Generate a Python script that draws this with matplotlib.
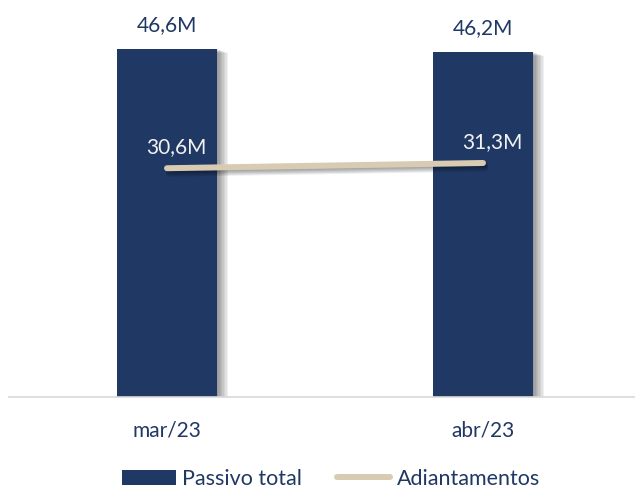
import matplotlib
matplotlib.use("Agg")
import matplotlib.pyplot as plt
import matplotlib.patheffects as pe
from matplotlib.patches import Patch
from matplotlib.lines import Line2D

# Monthly values (R$ millions)
months = ["mar/23", "abr/23"]
passivo_total = [46.6, 46.2]
adiantamentos = [30.6, 31.3]

NAVY = "#203864"
BEIGE = "#D8CBB2"
LABEL_LIGHT = "#F2F2F2"
FS = 15


def fmt(v):
    return f"{v:.1f}M".replace(".", ",")


plt.rcParams["font.family"] = ["Lato", "DejaVu Sans"]

fig = plt.figure(figsize=(6.35, 4.9), dpi=100)
ax = fig.add_axes([9 / 635, 93 / 490, 632 / 635, 397 / 490])

x = list(range(len(months)))

# soft drop shadow: stacked faint copies shifted right/down
bar_fx = [pe.SimplePatchShadow(offset=(k, -0.4 * k), shadow_rgbFace="#000000", alpha=0.06)
          for k in range(1, 9)] + [pe.Normal()]
ax.bar(x, passivo_total, width=0.316, color=NAVY, zorder=2, path_effects=bar_fx)

for xi, v in zip(x, passivo_total):
    ax.annotate(fmt(v), (xi, v), xytext=(0, 10), textcoords="offset points",
                ha="center", va="bottom", fontsize=FS, color=NAVY)

line_fx = [pe.SimpleLineShadow(offset=(1.5, -0.8 * k), shadow_color="#000000", alpha=0.08)
           for k in range(1, 6)] + [pe.Normal()]
ax.plot(x, adiantamentos, color=BEIGE, lw=4.3, solid_capstyle="round",
        zorder=3, path_effects=line_fx)

for xi, v in zip(x, adiantamentos):
    ax.annotate(fmt(v), (xi, v), xytext=(7, 8), textcoords="offset points",
                ha="center", va="bottom", fontsize=FS, color=LABEL_LIGHT, zorder=4)

ax.set_xlim(-0.5, 1.5)
ax.set_ylim(0, 53.1)
ax.set_yticks([])
ax.set_xticks(x)
ax.set_xticklabels(months, fontsize=FS, color=NAVY)
ax.tick_params(axis="x", length=0, pad=17)
for side in ["top", "left", "right"]:
    ax.spines[side].set_visible(False)
ax.spines["bottom"].set_color("#D9D9D9")
ax.spines["bottom"].set_linewidth(1.2)

handles = [Patch(facecolor=NAVY, label="Passivo total"),
           Line2D([0], [0], color=BEIGE, lw=4.3, solid_capstyle="round",
                  label="Adiantamentos")]
fig.legend(handles=handles, loc="center", bbox_to_anchor=(331 / 635, 11 / 490),
           ncol=2, frameon=False, fontsize=15.5, labelcolor=NAVY,
           handlelength=2.5, handletextpad=0.3, columnspacing=1.6,
           borderpad=0, borderaxespad=0)

fig.savefig("out.png", dpi=100)
